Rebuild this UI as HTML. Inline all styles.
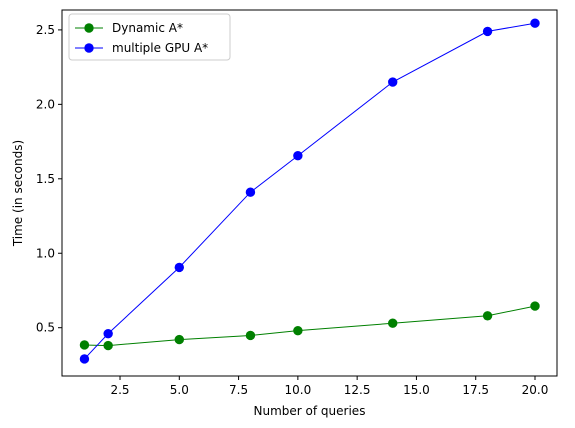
<!DOCTYPE html>
<html><head><style>body{margin:0;background:#fff}svg text{font-family:"DejaVu Sans","Liberation Sans",sans-serif;font-size:12px;fill:#000}</style></head>
<body>
<svg id="c" width="575" height="423" xmlns="http://www.w3.org/2000/svg"></svg>
<script>
const xs=[1,2,5,8,10,14,18,20];
const dynamicA=[0.384,0.38,0.42,0.448,0.48,0.53,0.58,0.645];
const multiGPU=[0.29,0.46,0.905,1.41,1.655,2.15,2.49,2.545];
const xTicks=[2.5,5.0,7.5,10.0,12.5,15.0,17.5,20.0];
const yTicks=[0.5,1.0,1.5,2.0,2.5];
const L=62,R=557,T=10,B=376;
const X=v=>179.3+(v-5)*(535-179.3)/15;
const Y=v=>327.7-(v-0.5)*148.9;
const svg=document.getElementById('c');const NS='http://www.w3.org/2000/svg';
function mk(t,a,p){const e=document.createElementNS(NS,t);for(const k in a)e.setAttribute(k,a[k]);(p||svg).appendChild(e);return e;}
const frame=mk('rect',{x:L,y:T,width:R-L,height:B-T,fill:'none',stroke:'#000','stroke-width':1});


xTicks.forEach(v=>{const x=X(v);mk('line',{x1:x,x2:x,y1:B,y2:B+4,stroke:'#000'});
const t=mk('text',{x:x,y:B+18,'text-anchor':'middle'});t.textContent=v.toFixed(1);

});
yTicks.forEach(v=>{const y=Y(v);mk('line',{x1:L-4,x2:L,y1:y,y2:y,stroke:'#000'});
const t=mk('text',{x:L-7,y:y+4,'text-anchor':'end'});t.textContent=v.toFixed(1);

});
const xt=mk('text',{x:(L+R)/2,y:415,'text-anchor':'middle'});xt.textContent='Number of queries';


const yt=mk('text',{x:22,y:(T+B)/2,'text-anchor':'middle',transform:`rotate(-90 22 ${(T+B)/2})`});yt.textContent='Time (in seconds)';


function series(vals,col,name){const g=mk('g',{});


mk('polyline',{points:xs.map((x,i)=>X(x)+','+Y(vals[i])).join(' '),fill:'none',stroke:col,'stroke-width':1},g);
xs.forEach((x,i)=>{const c=mk('circle',{cx:X(x),cy:Y(vals[i]),r:4.7,fill:col},g);

});}
series(dynamicA,'green','dynamic-a-star-series');
series(multiGPU,'blue','multiple-gpu-a-star-series');
const lg=mk('g',{});


mk('rect',{x:69,y:14,width:161,height:46,rx:3,fill:'#fff',stroke:'#ccc'},lg);
[['green','Dynamic A*',28],['blue','multiple GPU A*',48]].forEach(([c,n,y])=>{
mk('line',{x1:75,x2:103,y1:y,y2:y,stroke:c},lg);mk('circle',{cx:89,cy:y,r:4.7,fill:c},lg);
const t=mk('text',{x:112,y:y+4},lg);t.textContent=n;

});
</script>
</body></html>
